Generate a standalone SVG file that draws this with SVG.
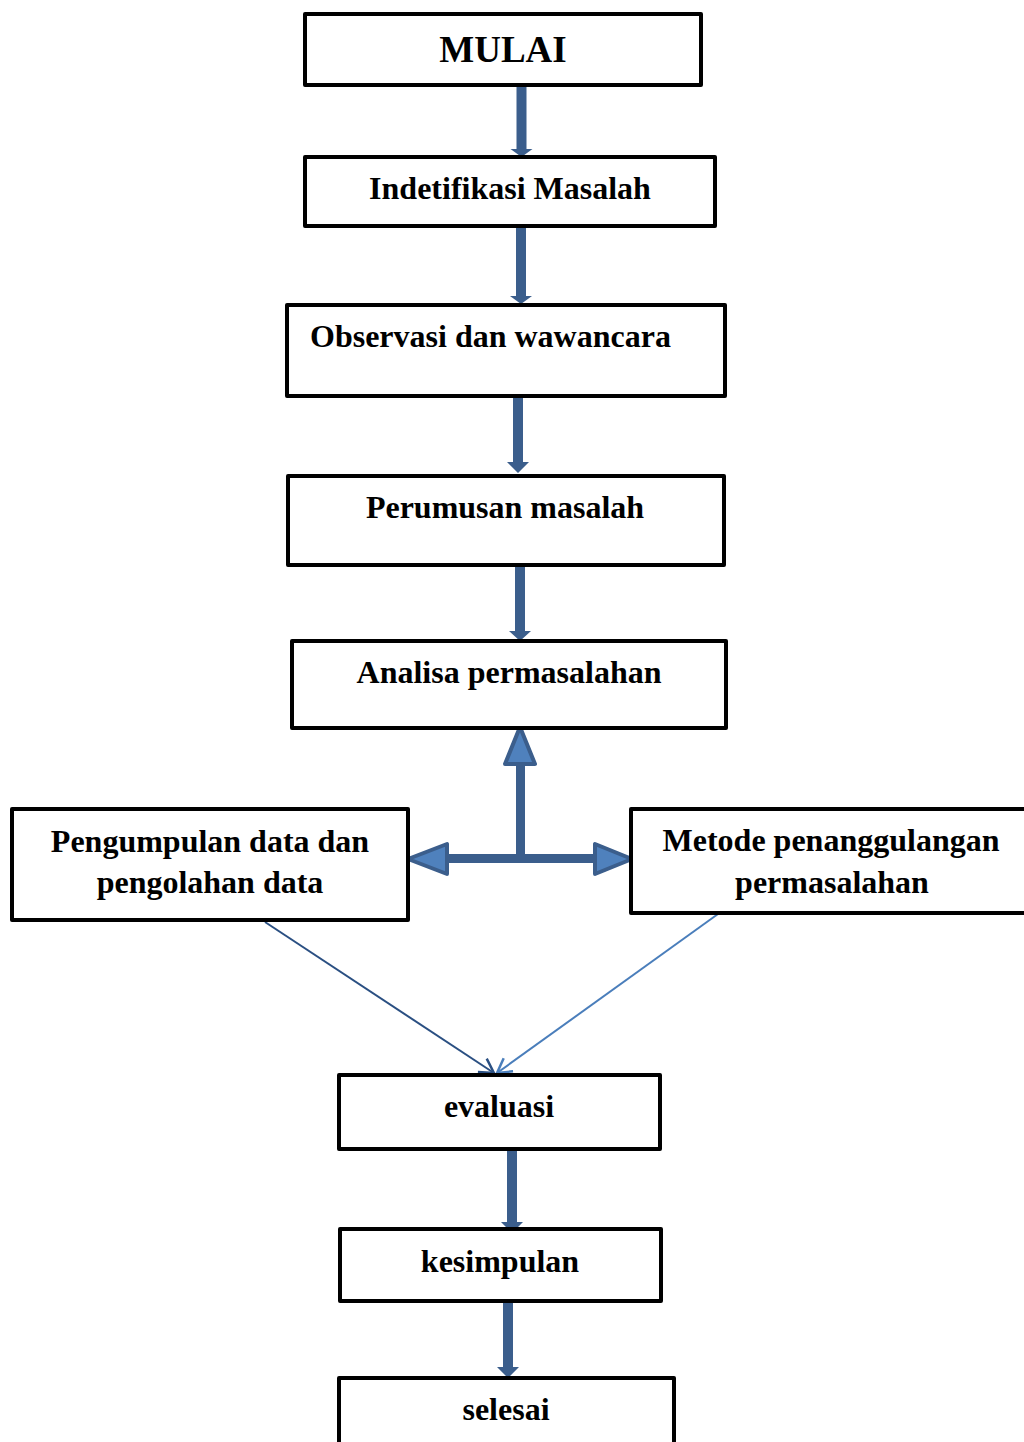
<svg xmlns="http://www.w3.org/2000/svg" width="1024" height="1442" viewBox="0 0 1024 1442">
<style>
.box{fill:#fff;stroke:#000;stroke-width:4;stroke-linejoin:round}
.t{font-family:"Liberation Serif","Times New Roman",serif;font-weight:bold;font-size:32px;fill:#000}
.c{text-anchor:middle}
.shaft{fill:#3B5E8C}
.big{fill:#4F81BD;stroke:#3B5E8C;stroke-width:4;stroke-linejoin:round}
.thin{fill:none;stroke-width:2}
</style>
<defs>
<marker id="openL" markerWidth="20" markerHeight="20" refX="17" refY="10" orient="auto" markerUnits="userSpaceOnUse">
<path d="M3,2 L17,10 L3,18" fill="none" stroke="#2A4F82" stroke-width="2.5"/>
</marker>
<marker id="openR" markerWidth="20" markerHeight="20" refX="17" refY="10" orient="auto" markerUnits="userSpaceOnUse">
<path d="M3,2 L17,10 L3,18" fill="none" stroke="#4A7EBB" stroke-width="2.5"/>
</marker>
</defs>
<g id="connectors">
<path class="shaft" d="M516.5,87 h10 v62 h6 l-11,8 l-11,-8 h6 z"/>
<path class="shaft" d="M516,228 h10 v68 h6 l-11,8 l-11,-8 h6 z"/>
<path class="shaft" d="M513,398 h10 v64 h6 l-11,11 l-11,-11 h6 z"/>
<path class="shaft" d="M515,567 h10 v64 h6 l-11,10 l-11,-10 h6 z"/>
<path class="shaft" d="M507,1151 h10 v71 h6 l-11,11 l-11,-11 h6 z"/>
<path class="shaft" d="M503,1303 h10 v64 h6 l-11,11 l-11,-11 h6 z"/>
<rect class="shaft" x="516" y="760" width="9" height="102"/>
<rect class="shaft" x="445" y="854" width="152" height="9"/>
<path class="big" d="M520,727 L535,764 L505,764 Z"/>
<path class="big" d="M408,859 L447,844 L447,874 Z"/>
<path class="big" d="M632,859 L595,844 L595,874 Z"/>
<line class="thin" x1="265" y1="922" x2="494" y2="1073" stroke="#2A4F82" marker-end="url(#openL)"/>
<line class="thin" x1="718" y1="914" x2="497" y2="1073" stroke="#4A7EBB" marker-end="url(#openR)"/>
</g>
<g id="mulai">
<rect class="box" x="305" y="14" width="396" height="71"/>
<text class="t c" x="503" y="62" style="font-size:37px">MULAI</text>
</g>
<g id="identifikasi">
<rect class="box" x="305" y="157" width="410" height="69"/>
<text class="t c" x="510" y="199">Indetifikasi Masalah</text>
</g>
<g id="observasi">
<rect class="box" x="287" y="305" width="438" height="91"/>
<text class="t" x="310" y="347">Observasi dan wawancara</text>
</g>
<g id="perumusan">
<rect class="box" x="288" y="476" width="436" height="89"/>
<text class="t c" x="505" y="518">Perumusan masalah</text>
</g>
<g id="analisa">
<rect class="box" x="292" y="641" width="434" height="87"/>
<text class="t c" x="509" y="683">Analisa permasalahan</text>
</g>
<g id="pengumpulan">
<rect class="box" x="12" y="809" width="396" height="111"/>
<text class="t c" x="210" y="852">Pengumpulan data dan</text>
<text class="t c" x="210" y="893">pengolahan data</text>
</g>
<g id="metode">
<rect class="box" x="631" y="809" width="400" height="104"/>
<text class="t c" x="831" y="851">Metode penanggulangan</text>
<text class="t c" x="832" y="893">permasalahan</text>
</g>
<g id="evaluasi">
<rect class="box" x="339" y="1075" width="321" height="74"/>
<text class="t c" x="499" y="1117">evaluasi</text>
</g>
<g id="kesimpulan">
<rect class="box" x="340" y="1229" width="321" height="72"/>
<text class="t c" x="500" y="1272">kesimpulan</text>
</g>
<g id="selesai">
<rect class="box" x="339" y="1378" width="335" height="80"/>
<text class="t c" x="506" y="1420">selesai</text>
</g>
</svg>
